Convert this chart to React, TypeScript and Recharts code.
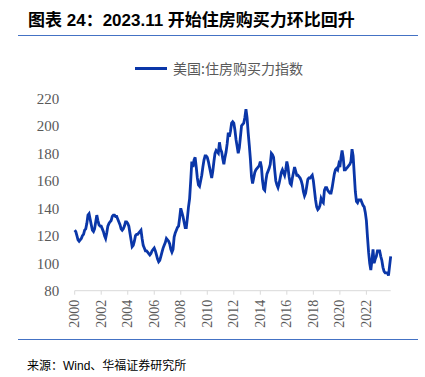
import { Line, LineChart, XAxis, YAxis } from "recharts";

const seriesName = "美国:住房购买力指数";
const chartTitle = "图表 24：2023.11 开始住房购买力环比回升";
const sourceNote = "来源：Wind、华福证券研究所";

const startYear = 2000;
const yearTicks = [2000, 2002, 2004, 2006, 2008, 2010, 2012, 2014, 2016, 2018, 2020, 2022];
const valueTicks = [80, 100, 120, 140, 160, 180, 200, 220];

// monthly values, Jan 2000 .. Nov 2023
const indexValues = [
  124, 123, 120, 117, 116, 117, 118, 120, 121, 124, 125, 129, // 2000
  135, 136, 132, 128, 124, 123, 125, 130, 135, 131, 128, 127, // 2001
  127, 125, 123, 120, 118, 122, 127, 129, 130, 131, 134, 135, // 2002
  135, 134, 134, 132, 130, 128, 125, 124, 125, 127, 130, 130, // 2003
  129, 127, 122, 117, 112, 113, 116, 120, 121, 121, 122, 123, // 2004
  124, 118, 113, 111, 109, 109, 108, 107, 106, 107, 109, 110, // 2005
  111, 109, 106, 103, 101, 102, 105, 108, 111, 113, 115, 118, // 2006
  117, 116, 114, 110, 108, 110, 119, 122, 124, 126, 127, 133, // 2007
  140, 137, 134, 130, 126, 126, 133, 141, 147, 160, 174, 170, // 2008
  175, 177, 170, 162, 157, 156, 160, 164, 170, 175, 178, 178, // 2009
  177, 174, 170, 166, 162, 167, 174, 180, 182, 181, 180, 188, // 2010
  183, 181, 176, 172, 177, 181, 187, 195, 192, 196, 202, 203, // 2011
  202, 197, 190, 185, 180, 184, 192, 200, 201, 202, 206, 212, // 2012
  206, 195, 186, 176, 163, 158, 162, 166, 168, 169, 170, 171, // 2013
  174, 170, 160, 154, 153, 160, 165, 167, 169, 172, 180, 179, // 2014
  177, 168, 160, 157, 155, 158, 162, 166, 168, 166, 164, 168, // 2015
  174, 170, 163, 158, 157, 162, 166, 170, 167, 164, 164, 163, // 2016
  162, 160, 157, 152, 149, 151, 156, 161, 162, 162, 163, 164, // 2017
  160, 153, 146, 141, 139, 140, 142, 147, 145, 144, 153, 155, // 2018
  155, 153, 152, 151, 151, 155, 160, 165, 168, 169, 168, 172, // 2019
  170, 177, 182, 177, 168, 168, 169, 170, 171, 172, 174, 183, // 2020
  178, 165, 152, 145, 144, 146, 146, 146, 144, 142, 141, 137, // 2021
  131, 119, 108, 100, 95, 102, 110, 100, 103, 105, 109, 109, // 2022
  109, 105, 102, 97, 94, 93, 93, 93, 91, 98, 105, // 2023
];

const chartData = indexValues.map((value, i) => ({ t: startYear + i / 12, value }));
const lastT = chartData[chartData.length - 1].t;

const axisGray = "#595959";
const lineBlue = "#0A36A8";
const ruleBlue = "#4472C4";

function YearTick({ x, y, payload }: any) {
  return (
    <g transform={`translate(${x},${y})`}>
      <text
        transform="rotate(-90)"
        textAnchor="end"
        dominantBaseline="central"
        fill={axisGray}
        fontSize={14}
        fontFamily="'Liberation Serif', serif"
      >
        {payload.value}
      </text>
    </g>
  );
}

export default function App() {
  return (
    <div
      style={{
        position: "absolute",
        left: 0,
        top: 0,
        width: 425,
        height: 377,
        background: "#fff",
        fontFamily: "'Liberation Sans', 'Noto Sans CJK SC', sans-serif",
      }}
    >
      <div
        style={{
          position: "absolute",
          left: 28,
          top: 11,
          fontSize: 17,
          lineHeight: "20px",
          fontWeight: 700,
          color: "#000",
          whiteSpace: "nowrap",
        }}
      >
        {chartTitle}
      </div>
      <div style={{ position: "absolute", left: 18, top: 35, width: 400, borderTop: `1.5px solid ${ruleBlue}` }} />

      <div
        style={{
          position: "absolute",
          left: 135,
          top: 58,
          display: "flex",
          alignItems: "center",
          gap: 6,
          fontSize: 14,
          lineHeight: "20px",
          color: axisGray,
          fontFamily: "'Noto Sans CJK SC', sans-serif",
          whiteSpace: "nowrap",
        }}
      >
        <span style={{ display: "inline-block", width: 32, height: 3, background: lineBlue }} />
        <span>{seriesName}</span>
      </div>

      <div style={{ position: "absolute", left: 0, top: 0 }}>
        <LineChart
          width={425}
          height={377}
          data={chartData}
          margin={{ top: 98.3, right: 34.3, bottom: 46.3, left: 14.7 }}
        >
          <XAxis
            dataKey="t"
            type="number"
            domain={[startYear, lastT]}
            ticks={yearTicks}
            interval={0}
            height={40}
            stroke="#D9D9D9"
            tickSize={4}
            tickMargin={5}
            tick={<YearTick />}
          />
          <YAxis
            domain={[80, 220]}
            ticks={valueTicks}
            interval={0}
            width={60}
            axisLine={false}
            tickLine={false}
            tickSize={6}
            tickMargin={9.4}
            tick={{ fill: axisGray, fontSize: 15, fontFamily: "'Liberation Serif', serif" }}
          />
          <Line
            type="linear"
            dataKey="value"
            name={seriesName}
            stroke={lineBlue}
            strokeWidth={2.8}
            dot={false}
            isAnimationActive={false}
          />
        </LineChart>
      </div>

      <div style={{ position: "absolute", left: 18, top: 339, width: 400, borderTop: `1.5px solid ${ruleBlue}` }} />
      <div
        style={{
          position: "absolute",
          left: 27,
          top: 357,
          fontSize: 12,
          lineHeight: "18px",
          color: "#000",
          whiteSpace: "nowrap",
        }}
      >
        {sourceNote}
      </div>
    </div>
  );
}
